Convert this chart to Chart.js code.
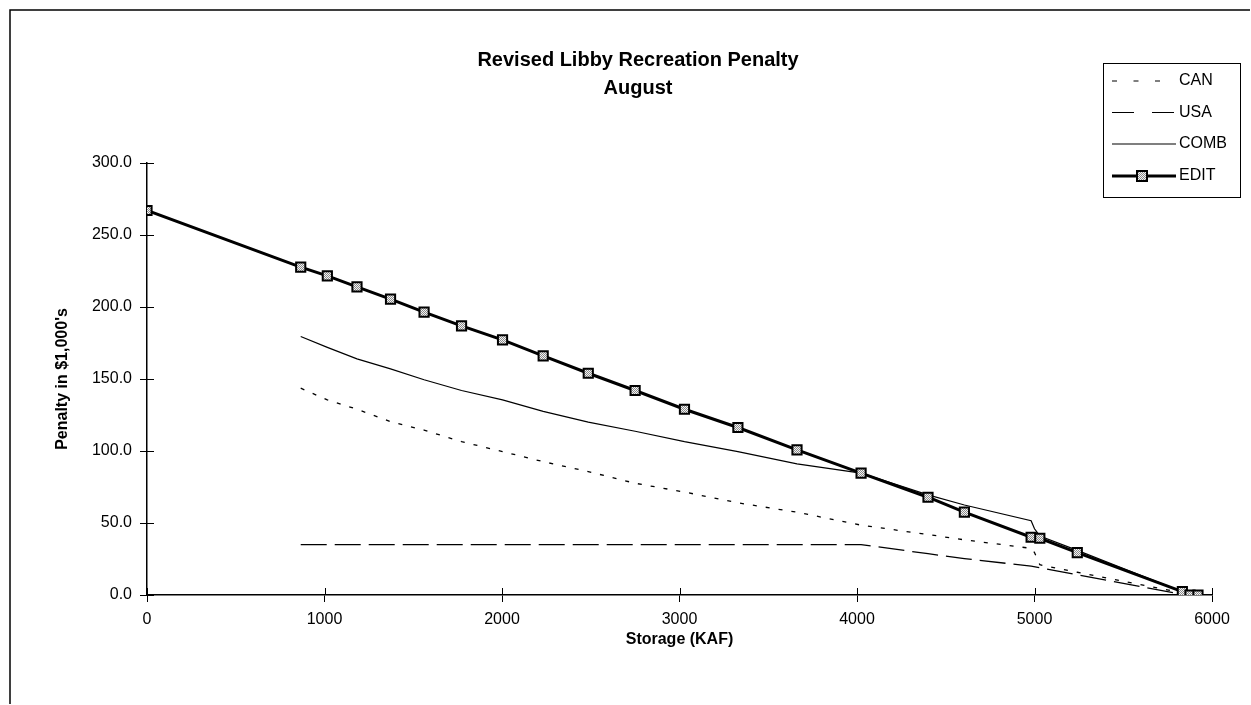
<!DOCTYPE html>
<html>
<head>
<meta charset="utf-8">
<script src="https://cdn.jsdelivr.net/npm/chart.js@4/dist/chart.umd.min.js"></script>
<style>
  html, body { margin: 0; padding: 0; background: #fff; }
  #wrap { position: relative; width: 1251px; height: 705px; }
</style>
</head>
<body>
<div id="wrap"><canvas id="penaltyChart" width="1251" height="705"></canvas></div>
<script>
// Values (storage in KAF, penalty in $1,000's)
const seriesNames = ['CAN', 'USA', 'COMB', 'EDIT'];

const canX = [866, 1016, 1183, 1372, 1561, 1772, 2003, 2232, 2486, 2750, 3028, 3329, 3662, 4023, 4400, 4605, 4981, 5000, 5030, 5241, 5833, 5876];
const canY = [143.6, 135.5, 129, 120.4, 114.5, 106.5, 99.6, 92.6, 85.7, 77.6, 71.5, 64, 57.5, 48.5, 42, 38.3, 32.4, 29.5, 21, 15.8, 1.5, 0];

const usaX = [866, 4023, 4400, 4605, 4981, 5030, 5241, 5833, 5876];
const usaY = [35, 35, 28.7, 25.3, 20, 19, 14, 0.5, 0];

const combX = [866, 1016, 1183, 1372, 1561, 1772, 2003, 2232, 2486, 2750, 3028, 3329, 3662, 4023, 4400, 4605, 4981, 5000, 5030, 5241, 5833];
const combY = [179.5, 172, 164, 157, 149.5, 142, 135.5, 127.5, 120, 113.7, 106.5, 99.6, 91, 84.6, 69.5, 62.5, 51.6, 46, 41, 31, 2.3];

const editX = [0, 866, 1016, 1183, 1372, 1561, 1772, 2003, 2232, 2486, 2750, 3028, 3329, 3662, 4023, 4400, 4605, 4981, 5030, 5241, 5833, 5876, 5921];
const editY = [267, 227.7, 221.6, 214, 205.5, 196.4, 186.9, 177.2, 166.1, 154, 142, 129, 116.3, 100.8, 84.6, 67.9, 57.5, 40.1, 39.4, 29.4, 2.3, 0, 0];

const xTicks = [0, 1000, 2000, 3000, 4000, 5000, 6000];
const yTicks = [0, 50, 100, 150, 200, 250, 300];

function pairs(xs, ys) {
    return xs.map((x, i) => ({ x: x, y: ys[i] }));
}

// stippled fill for the EDIT markers
const pat = document.createElement('canvas');
pat.width = 2; pat.height = 2;
const pctx = pat.getContext('2d');
pctx.fillStyle = '#f4f4f4'; pctx.fillRect(0, 0, 2, 2);
pctx.fillStyle = '#8a8a8a'; pctx.fillRect(0, 0, 1, 1); pctx.fillRect(1, 1, 1, 1);
const markerFill = pctx.createPattern(pat, 'repeat');

const FONT = '"Liberation Sans", Arial, sans-serif';

const decor = {
    id: 'decor',
    afterDraw(chart) {
        const ctx = chart.ctx;
        const xs = chart.scales.x, ys = chart.scales.y;
        const area = chart.chartArea;
        ctx.save();

        // outer frame
        ctx.strokeStyle = '#000';
        ctx.lineWidth = 1.5;
        ctx.beginPath();
        ctx.moveTo(10, 704); ctx.lineTo(10, 10); ctx.lineTo(1250, 10);
        ctx.stroke();

        // inner halves of the tick marks (they cross the axes)
        ctx.lineWidth = 1;
        ctx.beginPath();
        yTicks.forEach(v => {
            const py = Math.round(ys.getPixelForValue(v)) + 0.5;
            ctx.moveTo(area.left, py); ctx.lineTo(area.left + 7, py);
        });
        xTicks.forEach(v => {
            const px = Math.round(xs.getPixelForValue(v)) + 0.5;
            ctx.moveTo(px, area.bottom); ctx.lineTo(px, area.bottom - 7);
        });
        ctx.stroke();

        // title
        ctx.fillStyle = '#000';
        ctx.font = 'bold 20px ' + FONT;
        ctx.textAlign = 'center';
        ctx.textBaseline = 'middle';
        ctx.fillText('Revised Libby Recreation Penalty', 638, 60);
        ctx.fillText('August', 638, 88);

        // legend
        ctx.lineWidth = 1;
        ctx.strokeRect(1103.5, 63.5, 137, 134);
        const rows = [81, 112.5, 144, 176];
        const dashes = [[5, 16.5], [22, 18], [], []];
        ctx.font = '16px ' + FONT;
        ctx.textAlign = 'left';
        seriesNames.forEach((name, i) => {
            const y = rows[i];
            ctx.setLineDash(dashes[i]);
            ctx.lineWidth = i === 3 ? 3 : 1.2;
            ctx.beginPath();
            ctx.moveTo(1112, y); ctx.lineTo(1176, y);
            ctx.stroke();
            ctx.setLineDash([]);
            if (i === 3) {
                ctx.fillStyle = markerFill;
                ctx.fillRect(1137, y - 5, 10, 10);
                ctx.lineWidth = 2;
                ctx.strokeRect(1137, y - 5, 10, 10);
            }
            ctx.fillStyle = '#000';
            ctx.fillText(name, 1179, y);
        });
        ctx.restore();
    }
};

const ctx = document.getElementById('penaltyChart').getContext('2d');
const chart = new Chart(ctx, {
    type: 'scatter',
    data: {
        datasets: [
            {
                label: seriesNames[3],
                data: pairs(editX, editY),
                showLine: true,
                borderColor: '#000',
                borderWidth: 3,
                pointStyle: 'rect',
                pointRadius: 6.5,
                pointBorderWidth: 2,
                pointBorderColor: '#000',
                pointBackgroundColor: markerFill,
                order: 0
            },
            {
                label: seriesNames[2],
                data: pairs(combX, combY),
                showLine: true,
                borderColor: '#000',
                borderWidth: 1.2,
                pointRadius: 0,
                order: 1
            },
            {
                label: seriesNames[0],
                data: pairs(canX, canY),
                showLine: true,
                borderColor: '#000',
                borderWidth: 1.3,
                borderDash: [4, 9],
                pointRadius: 0,
                order: 2
            },
            {
                label: seriesNames[1],
                data: pairs(usaX, usaY),
                showLine: true,
                borderColor: '#000',
                borderWidth: 1.3,
                borderDash: [26, 8],
                pointRadius: 0,
                order: 3
            }
        ]
    },
    options: {
        responsive: false,
        animation: false,
        layout: { padding: { top: 163, right: 39, left: 0, bottom: 0 } },
        plugins: {
            legend: { display: false },
            title: { display: false },
            tooltip: { enabled: false }
        },
        scales: {
            x: {
                type: 'linear',
                min: 0,
                max: 6000,
                afterFit: function (scale) { scale.height = 110; },
                afterBuildTicks: function (scale) { scale.ticks = xTicks.map(v => ({ value: v })); },
                grid: { drawOnChartArea: false, drawTicks: true, tickLength: 7, color: '#000' },
                border: { color: '#000', width: 1.5 },
                ticks: {
                    color: '#000',
                    padding: 8,
                    maxRotation: 0,
                    font: { family: FONT, size: 16 },
                    callback: v => String(v)
                },
                title: {
                    display: true,
                    text: 'Storage (KAF)',
                    color: '#000',
                    font: { family: FONT, size: 16, weight: 'bold' },
                    padding: { top: 0, bottom: 56 }
                }
            },
            y: {
                min: 0,
                max: 300,
                afterFit: function (scale) { scale.width = 147; },
                afterBuildTicks: function (scale) { scale.ticks = yTicks.map(v => ({ value: v })); },
                grid: { drawOnChartArea: false, drawTicks: true, tickLength: 7, color: '#000' },
                border: { color: '#000', width: 1.5 },
                ticks: {
                    color: '#000',
                    padding: 8,
                    font: { family: FONT, size: 16 },
                    callback: v => v.toFixed(1)
                },
                title: {
                    display: true,
                    text: "Penalty in $1,000's",
                    color: '#000',
                    font: { family: FONT, size: 16, weight: 'bold' },
                    padding: { top: 53, bottom: 0 }
                }
            }
        }
    },
    plugins: [decor]
});
</script>
</body>
</html>
